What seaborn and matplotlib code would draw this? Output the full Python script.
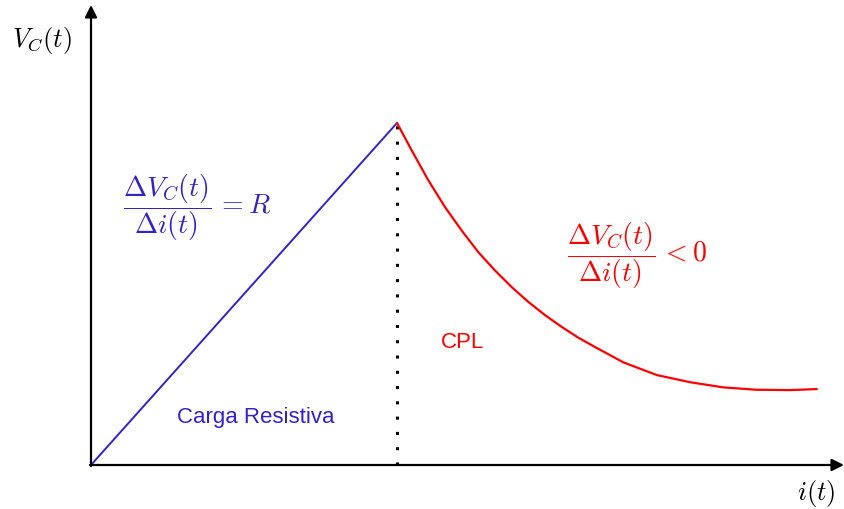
import matplotlib
matplotlib.use("Agg")
import matplotlib.pyplot as plt
import seaborn as sns
import pandas as pd

# ---- data (normalised units: peak at i=1, V=1) ----
resistive_i = [0.0, 1.0]
resistive_v = [0.0, 1.0]
cpl_i = [1.0, 1.048, 1.102, 1.157, 1.211, 1.266, 1.320, 1.375, 1.429, 1.484,
         1.538, 1.593, 1.647, 1.740, 1.849, 1.958, 2.066, 2.175, 2.284, 2.372]
cpl_v = [1.0, 0.920, 0.833, 0.754, 0.686, 0.622, 0.569, 0.520, 0.477, 0.438,
         0.404, 0.372, 0.345, 0.300, 0.263, 0.242, 0.227, 0.220, 0.219, 0.222]
peak_i = 1.0
peak_v = 1.0

BLUE = "#3322cc"
RED = "#ff0000"

sns.set_theme(style="white")
plt.rcParams["font.family"] = ["Liberation Sans", "DejaVu Sans"]
plt.rcParams["mathtext.fontset"] = "cm"

fig = plt.figure(figsize=(8.45, 5.10), dpi=100)
ax = fig.add_axes([0, 0, 1, 1])

X0, Y0, SX, SY = 91, 466, 306, 342
def px(x, y):
    return ((x - X0) / SX, (Y0 - y) / SY)

ax.set_xlim(px(0, 0)[0], px(845, 0)[0])
ax.set_ylim(px(0, 510)[1], px(0, 0)[1])
ax.axis("off")

df_r = pd.DataFrame({"i": resistive_i, "v": resistive_v})
df_c = pd.DataFrame({"i": cpl_i, "v": cpl_v})
sns.lineplot(data=df_r, x="i", y="v", color=BLUE, lw=1.4, ax=ax, sort=False)
sns.lineplot(data=df_c, x="i", y="v", color=RED, lw=1.6, ax=ax, sort=False)

# dotted vertical line
ax.plot([peak_i, peak_i], [0, peak_v], color="black", lw=2.2,
        linestyle=(0, (1, 4)), zorder=1)

# axes with arrows
ax.annotate("", xy=px(844, 466), xytext=px(90, 466), annotation_clip=False,
            arrowprops=dict(arrowstyle="-|>", color="black", lw=1.6,
                            mutation_scale=18, shrinkA=0, shrinkB=0))
ax.annotate("", xy=px(91, 6), xytext=px(91, 467), annotation_clip=False,
            arrowprops=dict(arrowstyle="-|>", color="black", lw=1.6,
                            mutation_scale=18, shrinkA=0, shrinkB=0))

# labels
ax.text(*px(42, 40), r"$V_C(t)$", fontsize=19, ha="center", va="center", color="black")
ax.text(*px(816, 494), r"$i(t)$", fontsize=19, ha="center", va="center", color="black")
ax.text(*px(197, 208), r"$\dfrac{\Delta V_C(t)}{\Delta i(t)}\, = R$", fontsize=20,
        ha="center", va="center", color=BLUE)
ax.text(*px(637, 256), r"$\dfrac{\Delta V_C(t)}{\Delta i(t)}\, < 0$", fontsize=20,
        ha="center", va="center", color=RED)
ax.text(*px(463, 342), "CPL", fontsize=16, ha="center", va="center", color=RED)
ax.text(*px(256, 418), "Carga Resistiva", fontsize=16, ha="center", va="center", color=BLUE)

fig.savefig("out.png", dpi=100, facecolor="white")
